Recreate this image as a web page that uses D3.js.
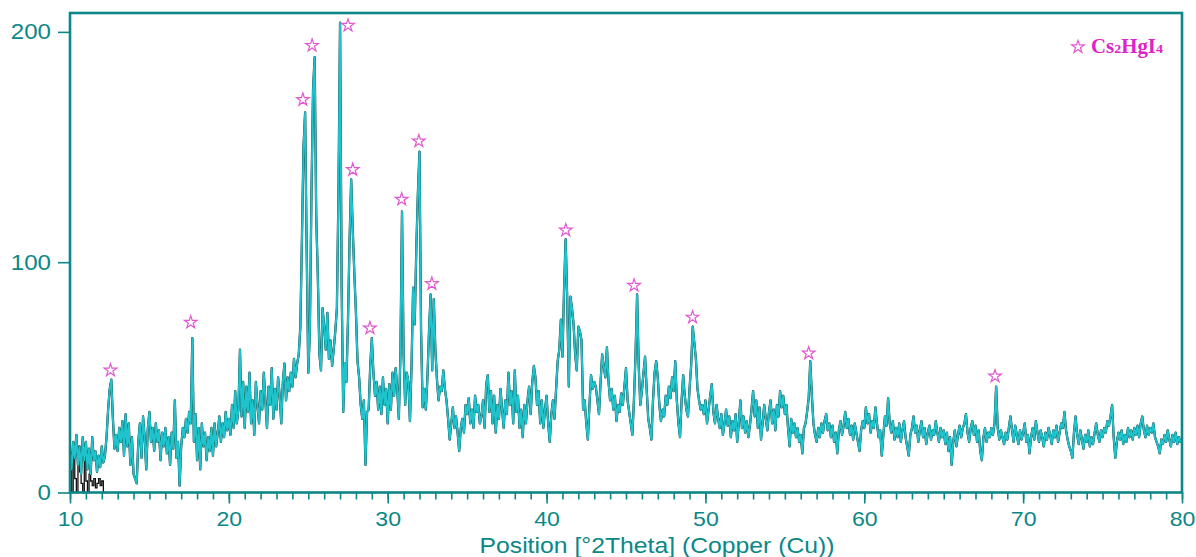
<!DOCTYPE html>
<html>
<head>
<meta charset="utf-8">
<script src="https://cdn.jsdelivr.net/npm/d3@7"></script>
<style>
  html, body { margin: 0; padding: 0; background: #ffffff; }
  svg { display: block; }
</style>
</head>
<body>
<svg id="chart" width="1196" height="557"></svg>
<script>
// ---------- data ----------
const startAngle = 10;      // °2Theta of first sample
const stepAngle = 0.1;      // sampling step
// intensity (counts), one row per degree 10..79, then 80.0
const intensity = [
  18,10,22,15,25,12,20,8,24,14,
  22,10,19,8,24,14,18,9,16,11,
  20,13,16,24,36,45,49,32,19,25,
  18,28,22,31,16,34,20,30,12,24,
  8,6,4,22,30,15,33,24,10,28,
  35,22,28,18,30,22,27,14,26,20,
  28,17,24,12,26,19,40,15,22,3,
  20,28,24,32,26,35,30,67,22,34,
  14,28,10,30,20,26,14,24,18,28,
  16,30,20,26,33,22,30,24,35,27,
  32,25,38,28,44,30,36,62,33,48,
  28,46,35,52,30,40,25,48,38,30,
  44,36,52,40,28,46,38,54,32,45,
  36,50,42,30,48,56,40,50,44,52,
  46,58,50,56,60,72,110,150,165,105,
  52,70,130,175,189,120,94,60,53,80,
  72,62,78,58,66,55,62,70,80,130,
  204,90,35,56,48,75,110,136,114,95,
  78,57,50,38,32,40,12,35,36,55,
  67,52,42,48,36,46,34,50,38,45,
  30,47,36,52,42,54,45,32,60,122,
  60,38,52,48,31,55,89,73,106,130,
  148,70,37,45,36,50,70,86,53,84,
  62,49,40,46,44,53,45,40,32,23,
  30,37,28,33,26,18,28,32,26,38,
  34,41,30,36,28,42,35,38,30,33,
  40,28,47,51,35,44,30,42,26,38,
  32,45,36,28,40,34,52,38,44,30,
  53,35,42,28,36,24,38,30,40,46,
  34,48,55,50,38,44,30,40,28,36,
  42,30,22,34,40,32,45,57,62,75,
  59,88,110,84,46,85,80,73,60,53,
  72,70,66,36,40,30,23,38,51,45,
  48,46,40,34,48,60,55,50,63,48,
  40,45,36,42,31,38,35,43,38,46,
  54,40,35,30,25,40,60,86,55,38,
  44,52,59,45,32,28,23,40,52,57,
  50,38,31,36,33,42,38,46,41,50,
  44,57,40,30,24,40,51,42,36,33,
  45,55,72,65,58,45,40,36,38,34,
  40,30,36,42,47,35,30,38,32,28,
  34,25,30,36,29,33,24,31,27,34,
  22,30,40,28,33,26,31,24,29,36,
  44,33,40,28,37,23,30,38,32,27,
  35,40,30,36,27,38,33,44,37,42,
  34,38,28,20,32,26,30,24,28,22,
  25,17,28,30,35,41,57,42,30,25,
  22,28,24,30,26,31,34,27,30,24,
  29,22,26,17,27,31,25,29,35,28,
  32,25,29,23,30,26,22,18,27,31,
  28,37,30,34,26,31,28,37,30,24,
  27,16,25,33,29,41,30,26,31,23,
  28,24,30,22,27,31,24,20,16,25,
  28,33,26,29,22,27,31,24,28,21,
  26,29,23,27,25,31,26,22,28,24,
  27,21,26,18,24,12,22,27,20,25,
  29,24,28,30,34,26,22,28,31,25,
  29,22,27,18,14,24,28,22,26,24,
  28,25,30,46,28,23,27,24,21,26,
  23,28,33,27,22,29,25,21,27,23,
  26,30,22,25,17,24,28,23,31,26,
  22,27,24,20,26,23,28,25,21,27,
  24,29,22,26,30,28,35,27,23,20,
  18,15,26,33,25,21,27,23,19,25,
  22,27,20,24,21,26,30,25,22,27,
  24,28,26,31,29,33,38,24,15,22,
  26,23,27,21,25,22,28,24,27,23,
  28,25,29,24,30,33,27,24,29,25,
  28,26,30,24,22,20,17,23,21,25,
  22,27,23,20,25,22,26,21,24,22,
  23
];
// raw (black) trace visible at the very start, 10.0..12.2
const rawStart = [14,0,18,6,0,20,9,4,0,15,5,0,8,5,3,6,2,4,6,3,5,0,0];

// Cs2HgI4 reflection markers (position °2θ, marker height)
const starAngle = [12.55, 17.6, 24.66, 25.24, 27.5, 27.8, 28.88, 30.88, 31.96, 32.78, 41.21, 45.51, 49.19, 56.5, 68.23];
const starLevel = [53.5, 74.3, 171.0, 194.5, 203.2, 140.6, 71.8, 127.7, 153.0, 91.1, 114.3, 90.3, 76.5, 60.9, 50.9];

const xTicksMajor = [10, 20, 30, 40, 50, 60, 70, 80];
const yTicks = [0, 100, 200];
const xTitle = "Position [°2Theta] (Copper (Cu))";
const legendName = ["Cs", "2", "HgI", "4"];

// ---------- layout ----------
const pL = 70, pR = 1182, pT = 13, pB = 492.5;
const teal = "#0b8787";
const cyan = "#1ec3cb";
const pink = "#e257d2";
const magenta = "#dc22c8";
const sans = "'Liberation Sans', Arial, sans-serif";

const svg = d3.select("#chart");
const x = d3.scaleLinear().domain([10, 80]).range([pL, pR]);
const y = d3.scaleLinear().domain([0, 208.2]).range([pB, pT]);

// widen text horizontally (reference glyphs are slightly stretched)
function widen(sel, f) {
  sel.each(function () {
    const len = this.getComputedTextLength();
    d3.select(this).attr("textLength", len * f).attr("lengthAdjust", "spacingAndGlyphs");
  });
}

const pts = intensity.map((v, i) => [startAngle + i * stepAngle, v]);
const rawPts = rawStart.map((v, i) => [startAngle + i * stepAngle, v]);

const line = d3.line().x(d => x(d[0])).y(d => y(d[1]));

const plot = svg.append("g");
plot.append("path").datum(rawPts).attr("d", d3.line().curve(d3.curveStepAfter).x(d => x(d[0])).y(d => y(d[1])))
  .attr("fill", "none").attr("stroke", "#111").attr("stroke-width", 1.3);
plot.append("path").datum(pts).attr("d", line)
  .attr("fill", "none").attr("stroke", "#0b1f22").attr("stroke-width", 2.3).attr("stroke-linejoin", "round");
plot.append("path").datum(pts).attr("d", line)
  .attr("fill", "none").attr("stroke", cyan).attr("stroke-width", 1.95).attr("stroke-linejoin", "round");

// stars
const star = d3.symbol().type(d3.symbolStar).size(50);
svg.append("g").selectAll("path").data(starAngle.map((a, i) => [a, starLevel[i]]))
  .join("path")
  .attr("d", star)
  .attr("transform", d => `translate(${x(d[0])},${y(d[1]) + 1})`)
  .attr("fill", "#fff").attr("stroke", pink).attr("stroke-width", 1.2);

// frame
svg.append("rect").attr("x", pL).attr("y", pT).attr("width", pR - pL).attr("height", pB - pT)
  .attr("fill", "none").attr("stroke", teal).attr("stroke-width", 2.6);

// x axis
const xMinor = svg.append("g").attr("transform", `translate(0,${pB})`)
  .call(d3.axisBottom(x).tickValues(d3.range(10, 81, 1)).tickSize(7).tickFormat(""));
const xMajor = svg.append("g").attr("transform", `translate(0,${pB})`)
  .call(d3.axisBottom(x).tickValues(xTicksMajor).tickSize(11).tickPadding(8).tickFormat(d3.format("d")));
[xMinor, xMajor].forEach(g => {
  g.select(".domain").remove();
  g.selectAll("line").attr("stroke", teal).attr("stroke-width", 1.6);
});
xMajor.selectAll("text").attr("fill", teal).attr("font-family", sans).attr("font-size", 21);
widen(xMajor.selectAll("text"), 1.1);

// y axis
const yAx = svg.append("g").attr("transform", `translate(${pL},0)`)
  .call(d3.axisLeft(y).tickValues(yTicks).tickSize(12).tickPadding(7).tickFormat(d3.format("d")));
yAx.select(".domain").remove();
yAx.selectAll("line").attr("stroke", teal).attr("stroke-width", 1.6);
yAx.selectAll("text").attr("fill", teal).attr("font-family", sans).attr("font-size", 21.5);
widen(yAx.selectAll("text"), 1.12);

// axis title
const title = svg.append("text").attr("x", 657).attr("y", 553).attr("text-anchor", "middle")
  .attr("fill", teal).attr("font-family", sans).attr("font-size", 22)
  .text(xTitle);
title.attr("textLength", 355).attr("lengthAdjust", "spacingAndGlyphs");

// legend
svg.append("path").attr("d", star).attr("transform", "translate(1078,47)")
  .attr("fill", "#fff").attr("stroke", pink).attr("stroke-width", 1.2);
const lt = svg.append("text").attr("x", 1091).attr("y", 53)
  .attr("fill", magenta).attr("font-family", "'Liberation Serif', 'Times New Roman', serif")
  .attr("font-weight", "bold").attr("font-size", 20);
legendName.forEach((s, i) => {
  const sub = i % 2 === 1;
  lt.append("tspan").attr("font-size", sub ? 13.5 : 20).text(s);
});
lt.attr("textLength", 72).attr("lengthAdjust", "spacingAndGlyphs");
</script>
</body>
</html>
